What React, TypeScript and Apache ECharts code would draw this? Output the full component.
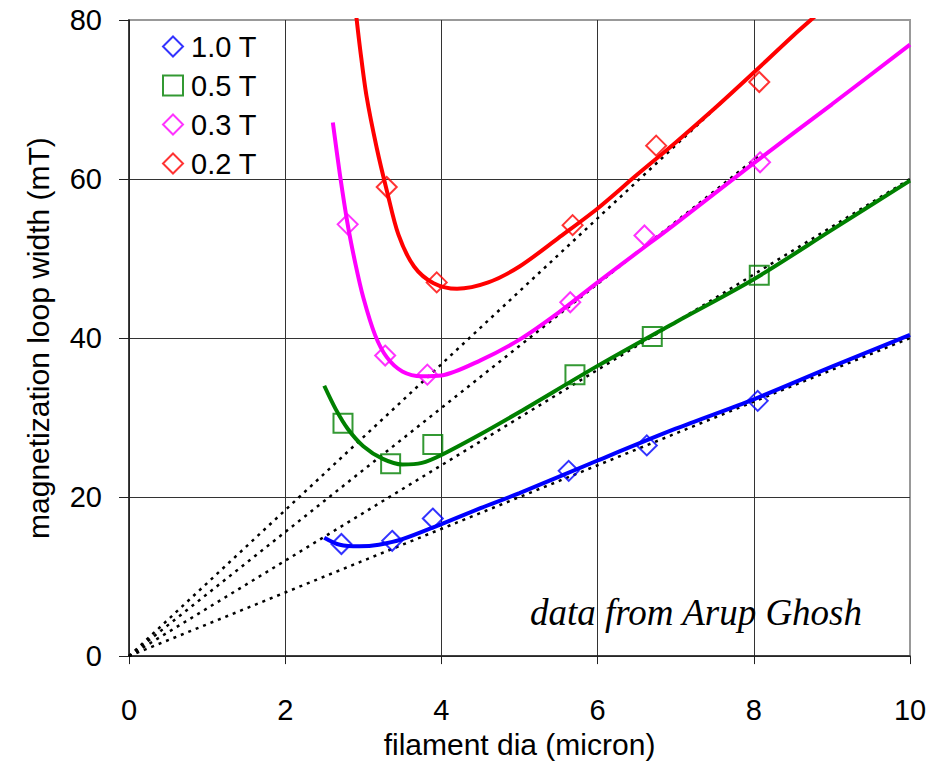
import React, { useEffect, useRef } from "react";
import * as echarts from "echarts";

// Measured points (filament dia in micron, loop width in mT)
const pts10T = [[2.72, 14.1], [3.37, 14.5], [3.89, 17.3], [5.63, 23.3], [6.63, 26.5], [8.05, 32.1]];
const pts05T = [[2.74, 29.3], [3.35, 24.2], [3.89, 26.6], [5.71, 35.4], [6.70, 40.2], [8.07, 47.9]];
const pts03T = [[2.80, 54.3], [3.28, 37.8], [3.82, 35.4], [5.65, 44.5], [6.60, 52.9], [8.08, 62.1]];
const pts02T = [[3.30, 59.0], [3.94, 47.0], [5.68, 54.2], [6.75, 64.2], [8.07, 72.2]];

// Fitted curves
const fit10T = [[2.5, 14.9], [2.7, 14.0], [2.95, 13.8], [3.2, 14.0], [3.5, 14.7], [4.0, 16.6], [4.5, 18.6], [5.0, 20.5], [6.0, 24.6], [7.0, 28.6], [8.0, 32.3], [9.0, 36.4], [10, 40.4]];
const fit05T = [[2.5, 34.0], [2.65, 31.0], [2.8, 28.6], [3.0, 26.4], [3.25, 24.8], [3.5, 24.1], [3.75, 24.3], [4.0, 25.3], [4.5, 27.9], [5.0, 30.7], [6.0, 36.5], [7.0, 42.0], [8.0, 47.4], [9.0, 53.6], [10, 59.8]];
const fit03T = [[2.61, 67.1], [2.7, 60.6], [2.8, 54.3], [2.9, 49.3], [3.0, 45.1], [3.15, 40.4], [3.3, 37.6], [3.5, 35.8], [3.75, 35.2], [4.0, 35.3], [4.5, 37.2], [5.0, 39.8], [5.5, 43.2], [6.0, 47.0], [6.5, 50.7], [7.0, 54.4], [8.0, 62.0], [9.0, 69.4], [10, 76.9]];
const fit02T = [[2.91, 80.5], [2.96, 76.3], [3.04, 70.5], [3.17, 64.0], [3.3, 58.6], [3.45, 53.0], [3.65, 49.0], [3.9, 46.9], [4.2, 46.2], [4.6, 47.0], [5.0, 49.0], [5.5, 52.6], [6.0, 56.3], [6.5, 60.5], [7.0, 64.6], [7.5, 68.9], [8.0, 73.4], [8.5, 78.0], [8.8, 80.6]];

// Linear (dotted) reference lines
const lin10T = [[0, 0], [10, 40]];
const lin05T = [[0, 0], [10, 60]];
const lin03T = [[0, 0], [8.1, 63.2]];
const lin02T = [[0, 0], [7.9, 72.5]];

const seriesNames = ["1.0 T", "0.5 T", "0.3 T", "0.2 T"];
const xTicks = { min: 0, max: 10, interval: 2 };
const yTicks = { min: 0, max: 80, interval: 20 };

const FONT = "'Liberation Sans', Arial, sans-serif";

export default function App() {
  const ref = useRef<HTMLDivElement>(null);
  useEffect(() => {
    if (!ref.current) return;
    const chart = echarts.init(ref.current, undefined, { renderer: "svg" });
    const dotted = (data: number[][]) => ({
      type: "line",
      data,
      symbol: "none",
      silent: true,
      lineStyle: { color: "#000", width: 2.5, type: [3, 5] },
      z: 1,
    });
    const fit = (data: number[][], color: string) => ({
      type: "line",
      data,
      symbol: "none",
      smooth: 0.3,
      silent: true,
      lineStyle: { color, width: 4 },
      z: 2,
    });
    const pts = (name: string, data: number[][], color: string, symbol: string, size: number) => ({
      type: "scatter",
      name,
      data,
      symbol,
      symbolSize: size,
      itemStyle: { color: "rgba(0,0,0,0)", borderColor: color, borderWidth: 2 },
      z: 3,
    });
    chart.setOption({
      animation: false,
      textStyle: { fontFamily: FONT },
      grid: {
        left: 129,
        top: 20,
        right: 38,
        bottom: 97,
        show: true,
        borderColor: "#999",
        borderWidth: 2,
        backgroundColor: "transparent",
      },
      legend: {
        orient: "vertical",
        left: 162,
        top: 32,
        padding: 0,
        itemWidth: 20,
        itemHeight: 20,
        itemGap: 10,
        data: seriesNames,
        textStyle: { fontSize: 29, color: "#000", fontFamily: FONT, padding: [0, 0, 0, 3] },
      },
      xAxis: {
        type: "value",
        ...xTicks,
        name: "filament dia (micron)",
        nameLocation: "middle",
        nameGap: 60,
        nameTextStyle: { fontSize: 30, color: "#000", fontFamily: FONT },
        axisLine: { lineStyle: { color: "#222", width: 1.5 } },
        axisTick: { length: 8, lineStyle: { color: "#222" } },
        axisLabel: { fontSize: 29, color: "#000", margin: 39, fontFamily: FONT },
        splitLine: { show: true, showMaxLine: false, lineStyle: { color: "#333", width: 1 } },
      },
      yAxis: {
        type: "value",
        ...yTicks,
        name: "magnetization loop width (mT)",
        nameLocation: "middle",
        nameGap: 76,
        nameTextStyle: { fontSize: 30, color: "#000", fontFamily: FONT },
        axisLine: { show: true, lineStyle: { color: "#222", width: 1.5 } },
        axisTick: { show: true, length: 10, lineStyle: { color: "#222" } },
        axisLabel: { fontSize: 29, color: "#000", margin: 27, fontFamily: FONT },
        splitLine: { show: true, showMaxLine: false, lineStyle: { color: "#333", width: 1 } },
      },
      graphic: [
        {
          type: "text",
          left: 530,
          top: 594,
          style: {
            text: "data from Arup Ghosh",
            font: "italic 37px 'Liberation Serif', 'Times New Roman', serif",
            fill: "#000",
          },
          z: 10,
        },
      ],
      series: [
        dotted(lin10T),
        dotted(lin05T),
        dotted(lin03T),
        dotted(lin02T),
        fit(fit10T, "#0000ff"),
        fit(fit05T, "#008000"),
        fit(fit03T, "#ff00ff"),
        fit(fit02T, "#ff0000"),
        pts(seriesNames[0], pts10T, "#0000ff", "diamond", 20),
        pts(seriesNames[1], pts05T, "#008000", "rect", 19),
        pts(seriesNames[2], pts03T, "#ff00ff", "diamond", 20),
        pts(seriesNames[3], pts02T, "#ff0000", "diamond", 20),
      ],
    });
    return () => chart.dispose();
  }, []);
  return <div ref={ref} style={{ width: 948, height: 764, position: "absolute", left: 0, top: 0 }} />;
}
